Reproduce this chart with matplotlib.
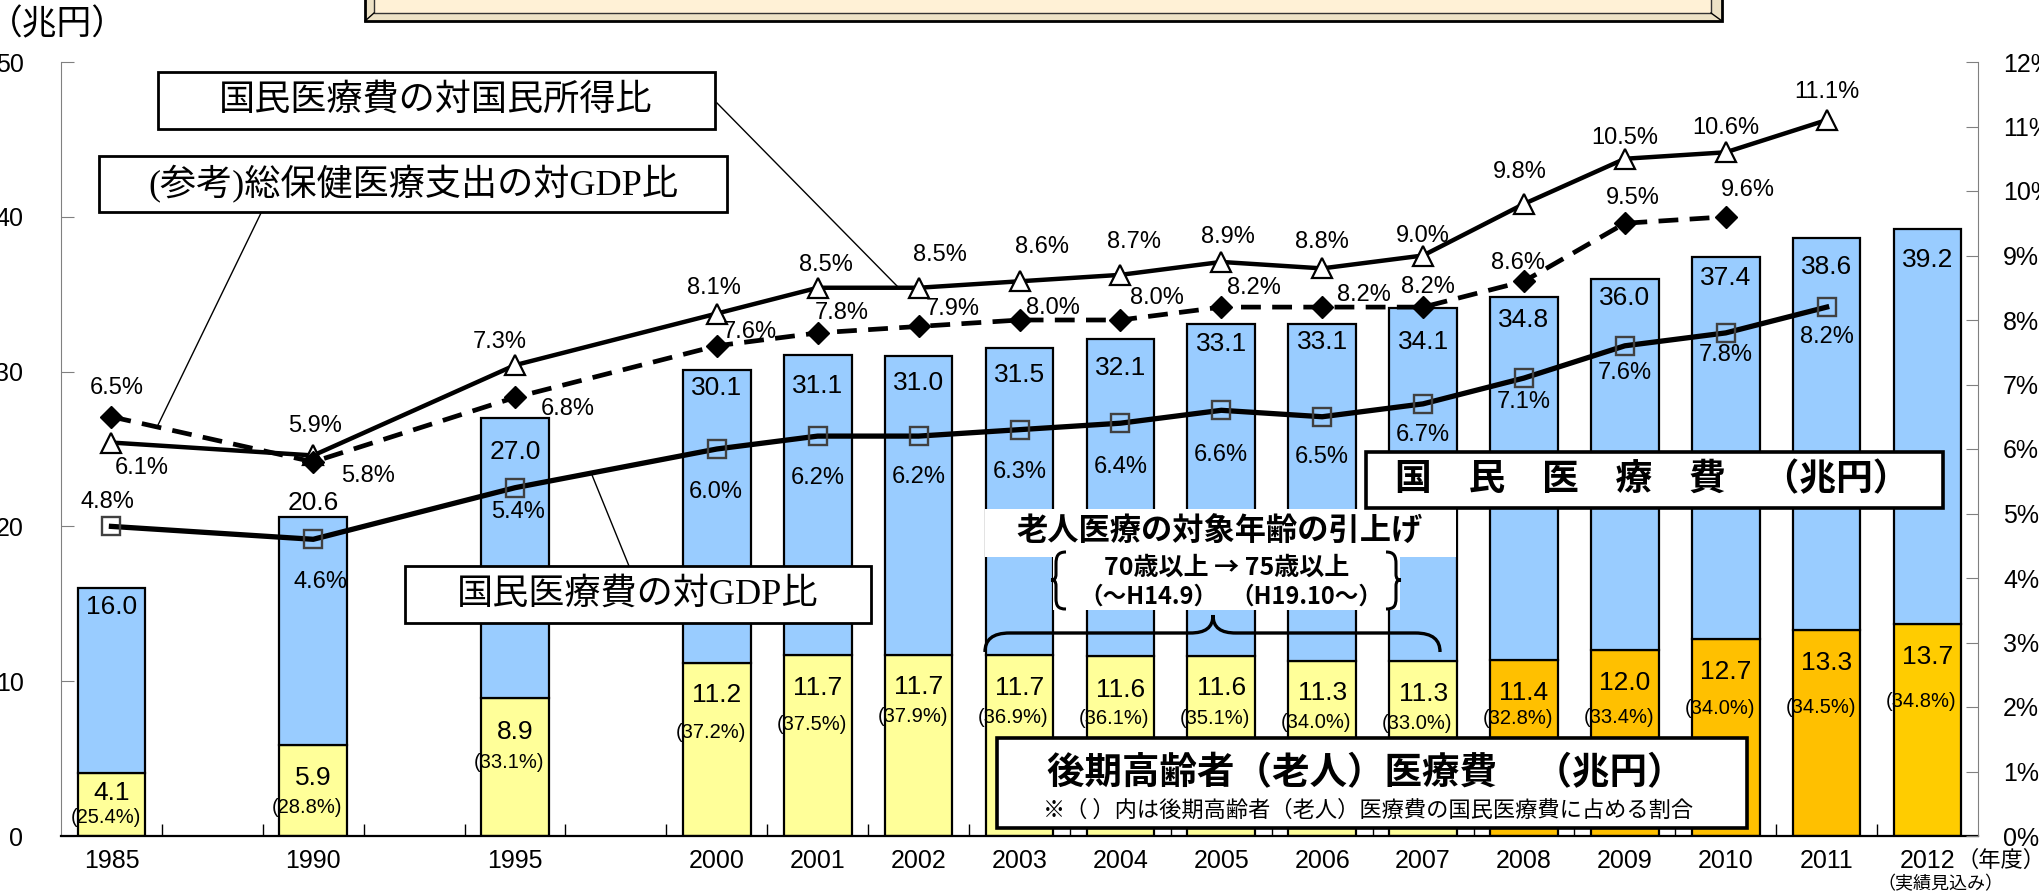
import matplotlib
matplotlib.use('Agg')
import matplotlib.pyplot as plt
from matplotlib.patches import Rectangle, PathPatch
from matplotlib.path import Path
from matplotlib.lines import Line2D
import numpy as np

# ---------------- data ----------------
years = ['1985', '1990', '1995', '2000', '2001', '2002', '2003', '2004', '2005',
         '2006', '2007', '2008', '2009', '2010', '2011', '2012']
total_cost = [16.0, 20.6, 27.0, 30.1, 31.1, 31.0, 31.5, 32.1, 33.1, 33.1, 34.1,
              34.8, 36.0, 37.4, 38.6, 39.2]
elderly_cost = [4.1, 5.9, 8.9, 11.2, 11.7, 11.7, 11.7, 11.6, 11.6, 11.3, 11.3,
                11.4, 12.0, 12.7, 13.3, 13.7]
elderly_share = [25.4, 28.8, 33.1, 37.2, 37.5, 37.9, 36.9, 36.1, 35.1, 34.0, 33.0,
                 32.8, 33.4, 34.0, 34.5, 34.8]
ratio_income = [6.1, 5.9, 7.3, 8.1, 8.5, 8.5, 8.6, 8.7, 8.9, 8.8, 9.0, 9.8, 10.5,
                10.6, 11.1]            # 1985-2011
ratio_the_gdp = [6.5, 5.8, 6.8, 7.6, 7.8, 7.9, 8.0, 8.0, 8.2, 8.2, 8.2, 8.6, 9.5,
                 9.6]                  # 1985-2010
ratio_gdp = [4.8, 4.6, 5.4, 6.0, 6.2, 6.2, 6.3, 6.4, 6.6, 6.5, 6.7, 7.1, 7.6, 7.8,
             8.2]                      # 1985-2011
left_ticks = [0, 10, 20, 30, 40, 50]
right_ticks = list(range(0, 13))

# ---------------- layout / style ----------------
W, H = 2039, 894
NUM = ['Liberation Sans', 'Noto Sans CJK JP']
JP = ['Noto Sans CJK JP', 'DejaVu Sans']
JPSERIF = ['Liberation Serif', 'Noto Sans CJK JP']
plt.rcParams['font.family'] = NUM

# category slots (1985,1990,1995 occupy every 2nd slot)
slots = [0, 2, 4] + list(range(6, 19))
BLUE = '#99CCFF'
low_colors = ['#FFFF99'] * 11 + ['#FFC000'] * 4 + ['#FFCC00']

fig = plt.figure(figsize=(W / 100, H / 100), dpi=100)
ax = fig.add_axes([61 / W, 58 / H, (1978 - 61) / W, (836 - 62) / H])
ax2 = ax.twinx()
ax.set_xlim(-0.5, 18.5)
ax.set_ylim(0, 50)
ax2.set_ylim(0, 12)

def fp(x, y):
    return (x / W, 1 - y / H)

PX = 0.72  # px -> points at 100 dpi

# bars
upper = [t - e for t, e in zip(total_cost, elderly_cost)]
ax.bar(slots, elderly_cost, width=0.67, color=low_colors, edgecolor='black',
       linewidth=1.6, zorder=2)
ax.bar(slots, upper, bottom=elderly_cost, width=0.67, color=BLUE,
       edgecolor='black', linewidth=1.6, zorder=2)

tot_off = [19, -14, 34, 18, 31, 27, 27, 29, 20, 18, 34, 23, 19, 21, 29, 31]
eld_off = [20, 33, 34, 32, 33, 32, 33, 34, 32, 32, 33, 33, 33, 33, 33, 33]
shr_off = [45, 63, 64, 70, 70, 62, 63, 62, 62, 61, 62, 59, 67, 69, 77, 78]
for i, x in enumerate(slots):
    ax.annotate(f'{total_cost[i]:.1f}', xy=(x, total_cost[i]),
                xytext=(0, -tot_off[i] * PX), textcoords='offset points',
                ha='center', va='center', fontsize=19, zorder=4)
    ax.annotate(f'{elderly_cost[i]:.1f}', xy=(x, elderly_cost[i]),
                xytext=(0, -eld_off[i] * PX), textcoords='offset points',
                ha='center', va='center', fontsize=19, zorder=4)
    ax.annotate(f'({elderly_share[i]:.1f}%)', xy=(x, elderly_cost[i]),
                xytext=(-6 * PX, -shr_off[i] * PX), textcoords='offset points',
                ha='center', va='center', fontsize=14.5, zorder=4)

# lines
ax2.plot(slots[:len(ratio_income)], ratio_income, color='black', lw=3.2,
         marker='^', ms=15, mfc='white', mec='black', mew=1.6, zorder=5)
ax2.plot(slots[:len(ratio_the_gdp)], ratio_the_gdp, color='black', lw=3.4,
         ls=(0, (4.2, 2.4)), marker='D', ms=11, mfc='black', mec='black', zorder=5)
ax2.plot(slots[:len(ratio_gdp)], ratio_gdp, color='black', lw=3.8,
         marker='s', ms=12.5, mfc='none', mec='#404040', mew=1.7, zorder=5)

tri_off = [(30, -25), (2, 29), (-15, 23), (-3, 26), (8, 23), (21, 33), (22, 34),
           (14, 33), (7, 25), (0, 26), (0, 20), (-4, 32), (0, 21), (0, 24), (0, 28)]
dia_off = [(5, 29), (55, -14), (53, -12), (33, 14), (24, 20), (34, 17), (33, 12),
           (37, 22), (33, 19), (42, 12), (5, 20), (-6, 18), (8, 25), (22, 27)]
sq_off = [(-4, 24), (7, -43), (3, -24), (-1, -43), (0, -42), (0, -41), (0, -42),
          (0, -44), (0, -45), (0, -40), (0, -31), (0, -24), (0, -27), (0, -22),
          (0, -30)]
for series, offs in ((ratio_income, tri_off), (ratio_the_gdp, dia_off),
                     (ratio_gdp, sq_off)):
    for i, v in enumerate(series):
        dx, dy = offs[i]
        ax2.annotate(f'{v:.1f}%', xy=(slots[i], v), xytext=(dx * PX, dy * PX),
                     textcoords='offset points', ha='center', va='center',
                     fontsize=17, zorder=6)

# axes styling
ax.spines['top'].set_visible(False)
ax2.spines['top'].set_visible(False)
ax.spines['right'].set_visible(False)
ax2.spines['left'].set_visible(False)
ax2.spines['bottom'].set_visible(False)
ax.spines['left'].set_color('#808080')
ax2.spines['right'].set_color('#808080')
ax.spines['bottom'].set_linewidth(1.6)

ax.set_xticks(slots)
ax.set_xticklabels(years)
ax.set_xticks(np.arange(0.5, 18.5, 1.0), minor=True)
ax.tick_params(axis='x', which='major', length=0, pad=9, labelsize=18)
ax.tick_params(axis='x', which='minor', direction='in', length=9, width=1,
               color='black')
ax.set_yticks(left_ticks)
ax.tick_params(axis='y', direction='in', length=9, color='#808080', pad=27,
               labelsize=18)
ax2.set_yticks(right_ticks)
ax2.set_yticklabels([f'{v}%' for v in right_ticks])
ax2.tick_params(axis='y', direction='in', length=9, color='#808080', pad=18,
                labelsize=18)

# ---------------- figure-level annotations ----------------
def rect(x0, y0, x1, y1, fc='white', ec='black', lw=2.0, z=10):
    fig.patches.append(Rectangle((x0 / W, 1 - y1 / H), (x1 - x0) / W,
                                 (y1 - y0) / H, transform=fig.transFigure,
                                 facecolor=fc, edgecolor=ec, linewidth=lw,
                                 zorder=z))

def line(x0, y0, x1, y1, lw=1.0, z=9):
    fig.lines.append(Line2D([x0 / W, x1 / W], [1 - y0 / H, 1 - y1 / H],
                            transform=fig.transFigure, color='black',
                            linewidth=lw, zorder=z))

def text(x, y, s, size, weight='normal', family=JP, z=12, ha='center'):
    fig.text(x / W, 1 - y / H, s, fontsize=size, fontweight=weight,
             family=family, ha=ha, va='center', zorder=z)

def path(cmds, lw=2.2, z=11):
    verts, codes = [], []
    for c, pts in cmds:
        for p in pts:
            verts.append(fp(*p))
        if c == 'M':
            codes.append(Path.MOVETO)
        elif c == 'L':
            codes.append(Path.LINETO)
        elif c == 'C':
            codes += [Path.CURVE4] * 3
    fig.patches.append(PathPatch(Path(verts, codes), transform=fig.transFigure,
                                 facecolor='none', edgecolor='black',
                                 linewidth=lw, zorder=z))

# top (cut-off) title box
rect(365, -6, 1722, 21, fc='#EDE2C6', lw=2.0, z=10)
rect(374, -6, 1711, 13, fc='#FFF1D6', ec='#333333', lw=1.0, z=10)
line(365, 21, 374, 13, lw=1.0, z=11)
line(1722, 21, 1711, 13, lw=1.0, z=11)

# unit label
text(57, 25, '（兆円）', 25)

# leader lines
line(717, 103, 898, 287)
line(261, 213, 158, 425)
line(629, 566, 592, 475)

# label boxes
rect(158, 72, 715, 129)
text(436, 100, '国民医療費の対国民所得比', 26)
rect(99, 156, 727, 212)
text(413, 184, '(参考)総保健医療支出の対GDP比', 26, family=JPSERIF)
rect(405, 566, 871, 623)
text(638, 595, '国民医療費の対GDP比', 26, family=JPSERIF)
rect(1366, 452, 1943, 508, lw=2.6)
text(1652, 480, '国　民　医　療　費　（兆円）', 26.5, weight='bold')
rect(997, 738, 1747, 828, lw=2.6)
text(1366, 773, '後期高齢者（老人）医療費　（兆円）', 27, weight='bold')
text(1368, 810, '※（ ）内は後期高齢者（老人）医療費の国民医療費に占める割合', 16)

# age-threshold note
rect(985, 509, 1456, 557, ec='none', lw=0, z=8)
rect(1053, 550, 1400, 610, ec='none', lw=0, z=8)
text(1220, 532, '老人医療の対象年齢の引上げ', 22.5, weight='bold')
text(1227, 568, '70歳以上 → 75歳以上', 18, weight='bold')
text(1148, 597, '（〜H14.9）', 17, weight='bold')
text(1306, 597, '（H19.10〜）', 17, weight='bold')

lb = [('M', [(1066, 552)]),
      ('C', [(1058, 552), (1056, 556), (1056, 564)]),
      ('L', [(1056, 574)]),
      ('C', [(1056, 579), (1054, 580), (1051, 580)]),
      ('C', [(1054, 580), (1056, 581), (1056, 586)]),
      ('L', [(1056, 598)]),
      ('C', [(1056, 606), (1058, 609), (1066, 609)])]
path(lb)
rb = [(c, [(2452 - x, y) for x, y in pts]) for c, pts in lb]
path(rb)
hb = [('M', [(985, 652)]),
      ('C', [(985, 640), (992, 633), (1010, 633)]),
      ('L', [(1190, 633)]),
      ('C', [(1205, 633), (1213, 628), (1213, 615)]),
      ('C', [(1213, 628), (1221, 633), (1236, 633)]),
      ('L', [(1415, 633)]),
      ('C', [(1433, 633), (1440, 640), (1440, 652)])]
path(hb, lw=2.4)

# fiscal year notes
text(2001, 860, '（年度）', 16)
text(1940, 884, '（実績見込み）', 13)

fig.savefig('out.png', dpi=100)
